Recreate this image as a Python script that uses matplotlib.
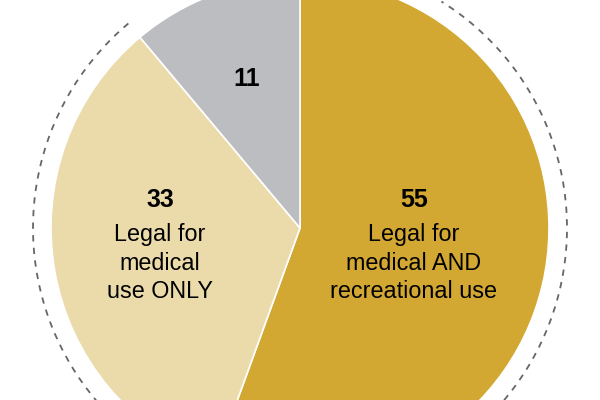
import matplotlib
matplotlib.use("Agg")
import matplotlib.pyplot as plt
from matplotlib.patches import Arc

categories = ["Legal for medical AND recreational use", "Legal for medical use ONLY", "Not legal"]
values = [55, 33, 11]
colors = ["#D2A833", "#EBDBAA", "#BCBDC0"]
total_label = "88"

plt.rcParams['font.family'] = ['Liberation Sans', 'DejaVu Sans']

fig = plt.figure(figsize=(6, 4), dpi=100)
ax = fig.add_axes([0, 0, 1, 1])

cx, cy, r = 300, 172, 249
ax.pie(values, colors=colors, startangle=90, counterclock=False, center=(cx, cy),
       radius=r, frame=True, wedgeprops=dict(edgecolor='white', linewidth=1.2))
ax.set_xlim(0, 600)
ax.set_ylim(0, 400)
ax.set_aspect('equal')
ax.axis('off')

arc = Arc((cx, cy), 2 * 267, 2 * 267, theta1=130, theta2=418, color='#666666',
          lw=1.3, linestyle=(0, (3.5, 3.5)))
ax.add_patch(arc)

numfs = 18
labfs = 16.8
ax.text(414, 200, str(values[0]), ha='center', va='center', fontsize=numfs, fontweight='bold')
ax.text(414, 137, "Legal for\nmedical AND\nrecreational use", ha='center', va='center',
        fontsize=labfs, linespacing=1.3)
ax.text(160, 200, str(values[1]), ha='center', va='center', fontsize=numfs, fontweight='bold')
ax.text(160, 137, "Legal for\nmedical\nuse ONLY", ha='center', va='center',
        fontsize=labfs, linespacing=1.3)
ax.text(247, 321, str(values[2]), ha='center', va='center', fontsize=numfs, fontweight='bold')
ax.text(489, 397, total_label, ha='center', va='bottom', fontsize=numfs, fontweight='bold')

fig.savefig("out.png", dpi=100)
